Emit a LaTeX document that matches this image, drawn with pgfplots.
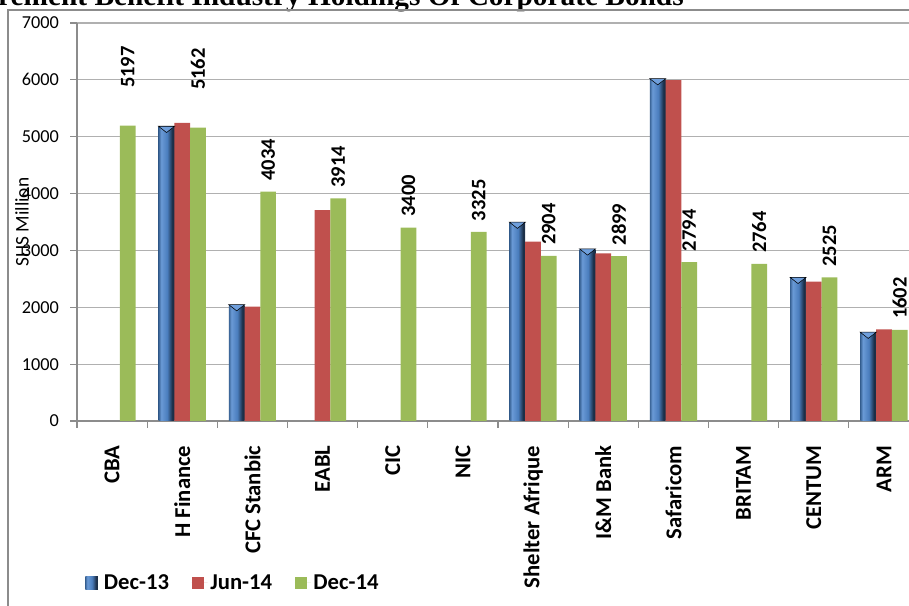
\documentclass[border=0pt]{standalone}
\usepackage{fontspec}
\setmainfont{Carlito}
\newfontfamily\titlefont{Liberation Serif}
\usepackage{pgfplots}
\pgfplotsset{compat=1.18}

\definecolor{barred}{HTML}{C0504D}
\definecolor{bargreen}{HTML}{9BBB59}
\definecolor{blueA}{HTML}{3A6496}
\definecolor{blueB}{HTML}{6A9AD6}
\definecolor{blueC}{HTML}{4A7DBD}
\definecolor{blueD}{HTML}{1C2F48}
\definecolor{bluetop}{HTML}{6F9FDC}
\definecolor{axisgray}{HTML}{8C8C8C}
\definecolor{gridgray}{HTML}{B0B0B0}
\pgfdeclarehorizontalshading{bluebar}{100bp}{color(0bp)=(blueA); color(25bp)=(blueA); color(33bp)=(blueB); color(52bp)=(blueC); color(68bp)=(blueD); color(75bp)=(blueD); color(100bp)=(blueD)}

\pgfkeys{/pgf/number format/.cd,1000 sep={}}
\pgfplotsset{
  dec13/.style={ybar, bar shift=-0.224, draw=none, shade, shading=bluebar},
  dec14/.style={ybar, bar shift=0, draw=none, fill=bargreen,
    nodes near coords={\rotatebox{90}{\pgfmathprintnumber{\pgfplotspointmeta}}},
    nodes near coords style={font=\fontsize{15.4}{18}\selectfont\bfseries, black, anchor=south, inner sep=0pt, yshift=#1}},
  dec14/.default=8pt,
}

\begin{document}
\begin{tikzpicture}
\path[use as bounding box] (0,0) rectangle (681.75pt,454.5pt);
\clip (0,0) rectangle (681.75pt,454.5pt);

% cropped title and chart frame
\node[anchor=base east, inner sep=0pt, font=\titlefont\bfseries\fontsize{22}{25}\selectfont]
  at (513pt,450pt) {Retirement Benefit Industry Holdings Of Corporate Bonds};
\draw[axisgray, line width=1.1pt] (6pt,0pt) -- (6pt,447pt) -- (690pt,447pt);

\begin{axis}[
  at={(57.75pt,138.75pt)}, anchor=south west,
  scale only axis, width=631.5pt, height=298.5pt,
  xmin=-0.5, xmax=11.5, ymin=0, ymax=7000,
  xtick={-0.5,0.5,...,11.5}, x tick label as interval,
  xticklabels={CBA,H Finance,CFC Stanbic,EABL,CIC,NIC,Shelter Afrique,I\&M Bank,Safaricom,BRITAM,CENTUM,ARM},
  ytick={0,1000,...,7000},
  ymajorgrids, grid style={color=gridgray, line width=0.9pt},
  axis x line*=bottom, axis y line*=left,
  axis line style={color=axisgray, line width=0.9pt, -},
  tick align=outside, major tick length=5pt,
  tick style={color=axisgray, line width=0.9pt},
  /pgf/number format/assume math mode=true,
  y tick label style={font=\fontsize{13.7}{16}\selectfont, xshift=-5pt},
  x tick label style={font=\fontsize{17}{20}\selectfont\bfseries, yshift=-10pt, rotate=90, anchor=east},
  ylabel={SHS Million},
  ylabel style={at={(axis description cs:-0.0653,0.5)}, anchor=center, font=\fontsize{14.5}{17}\selectfont},
  bar width=0.224,
  legend columns=3,
  legend style={at={(axis description cs:0.0095,-0.407)}, anchor=west, draw=none, fill=none,
    inner sep=0pt, font=\fontsize{17}{20}\selectfont\bfseries,
    /tikz/every even column/.append style={column sep=15pt}},
  legend image code/.code={\path[#1, draw=none] (0pt,-4.75pt) rectangle (9.5pt,4.75pt);
    \path (0pt,0pt) -- (12pt,0pt);},
]
% Dec-13: one plot per bar so that each bar gets its own shading
\addplot[dec13] coordinates {(1,5176)};
\addlegendentry{Dec-13}
\addplot[dec13, forget plot] coordinates {(2,2040)};
\addplot[dec13, forget plot] coordinates {(6,3490)};
\addplot[dec13, forget plot] coordinates {(7,3020)};
\addplot[dec13, forget plot] coordinates {(8,6015)};
\addplot[dec13, forget plot] coordinates {(10,2520)};
\addplot[dec13, forget plot] coordinates {(11,1555)};
\addplot[ybar, bar shift=0, draw=none, fill=barred] coordinates {
(1,5245) (2,2010) (3,3710) (6,3155) (7,2950) (8,5995) (10,2450) (11,1612)};
\addlegendentry{Jun-14}
% Dec-14 bars sit 0.224 to the right of each category centre
\addplot[dec14] coordinates {
(2.224,4034) (3.224,3914) (4.224,3400) (5.224,3325)
(6.224,2904) (7.224,2899) (8.224,2794) (9.224,2764) (10.224,2525) (11.224,1602)};
\addlegendentry{Dec-14}
\addplot[dec14=28pt, forget plot] coordinates {(0.224,5197) (1.224,5162)};
% bevel triangles on top of the Dec-13 bars
\addplot[only marks, forget plot, mark=triangle*, mark size=7pt,
  mark options={rotate=180, yscale=0.45, fill=bluetop, draw=none}] coordinates {
(0.776,5147) (1.776,2011) (5.776,3461) (6.776,2991) (7.776,5986) (9.776,2491) (10.776,1526)};
\end{axis}
\end{tikzpicture}
\end{document}
